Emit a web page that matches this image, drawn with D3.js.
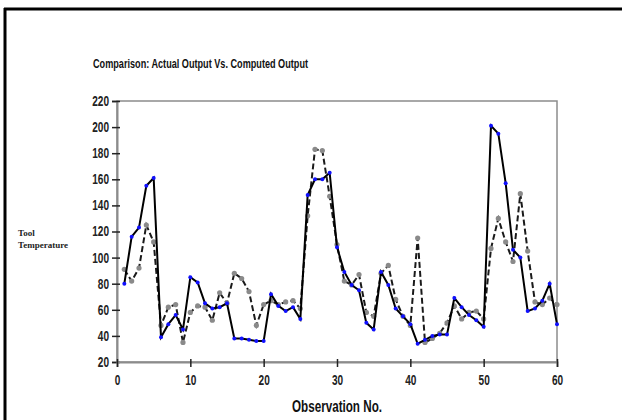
<!DOCTYPE html>
<html>
<head>
<meta charset="utf-8">
<script src="https://cdn.jsdelivr.net/npm/d3@7"></script>
<style>
  body { margin: 0; background: #fff; }
  text { font-family: "Liberation Sans Narrow", "Arial Narrow", "Liberation Sans", sans-serif; }
</style>
</head>
<body>
<div id="chart"></div>
<script>
// observation number 1..60
var obs = d3.range(1, 61);
// actual tool temperature (solid line, blue points)
var actual = [80, 116, 123, 155, 161, 39, 49, 56, 45, 85,
              81, 65, 61, 62, 65, 38, 38, 37, 36, 36,
              72, 63, 59, 62, 53, 148, 160, 160, 165, 108,
              89, 79, 75, 50, 45, 89, 79, 61, 55, 49,
              34, 37, 40, 41, 41, 69, 62, 56, 52, 47,
              201, 195, 157, 106, 100, 59, 61, 67, 80, 49];
// computed output (dashed line, grey points)
var computed = [91, 82, 92, 125, 112, 48, 62, 64, 35, 58,
                63, 62, 52, 73, 65, 88, 84, 74, 48, 64,
                67, 64, 66, 67, 61, 132, 183, 182, 147, 110,
                82, 79, 87, 58, 55, 88, 94, 68, 55, 48,
                115, 35, 38, 42, 50, 63, 53, 58, 59, 53,
                107, 130, 112, 97, 149, 105, 66, 64, 69, 64];
var yTicks = [20, 40, 60, 80, 100, 120, 140, 160, 180, 200, 220];
var xTicks = [0, 10, 20, 30, 40, 50, 60];

var W = 622, H = 420;
var svg = d3.select("#chart").append("svg")
    .attr("width", W)
    .attr("height", H);

// outer frame (top and left only)
svg.append("line").attr("x1", 4).attr("x2", W).attr("y1", 9).attr("y2", 9)
    .attr("stroke", "#000").attr("stroke-width", 3);
svg.append("line").attr("x1", 5).attr("x2", 5).attr("y1", 8).attr("y2", H)
    .attr("stroke", "#000").attr("stroke-width", 3);

var x = d3.scaleLinear().domain([0, 60]).range([117, 557]);
var y = d3.scaleLinear().domain([20, 220]).range([362, 101]);

// plot frame
svg.append("rect")
    .attr("x", x(0)).attr("y", y(220))
    .attr("width", x(60) - x(0)).attr("height", y(20) - y(220))
    .attr("fill", "none").attr("stroke", "#8c8c8c").attr("stroke-width", 1.5);

var yAxis = svg.append("g")
    .attr("transform", "translate(" + x(0) + ",0)")
    .call(d3.axisLeft(y).tickValues(yTicks).tickSize(5).tickPadding(3));
yAxis.select(".domain").attr("stroke", "#8c8c8c").attr("stroke-width", 2);
yAxis.selectAll(".tick line").attr("x2", -5).attr("x1", 3).attr("stroke", "#222").attr("stroke-width", 1.5);
yAxis.selectAll(".tick text").attr("fill", "#222")
    .style("font-size", "14px").style("font-weight", "bold")
    .attr("textLength", function(d) { return String(d).length * 5.6; })
    .attr("lengthAdjust", "spacingAndGlyphs");

var xAxis = svg.append("g")
    .attr("transform", "translate(0," + y(20) + ")")
    .call(d3.axisBottom(x).tickValues(xTicks).tickSize(5).tickPadding(8));
xAxis.select(".domain").attr("stroke", "#8c8c8c").attr("stroke-width", 2);
xAxis.selectAll(".tick line").attr("y1", -3).attr("stroke", "#222").attr("stroke-width", 1.5);
xAxis.selectAll(".tick text").attr("fill", "#222")
    .style("font-size", "14px").style("font-weight", "bold")
    .attr("textLength", function(d) { return String(d).length * 5.6; })
    .attr("lengthAdjust", "spacingAndGlyphs");

var line = d3.line()
    .x(function(d, i) { return x(obs[i]); })
    .y(function(d) { return y(d); });

// computed, dashed
svg.append("path")
    .datum(computed)
    .attr("d", line)
    .attr("fill", "none")
    .attr("stroke", "#1a1a1a")
    .attr("stroke-width", 2)
    .attr("stroke-dasharray", "6,3");
svg.append("g").selectAll("circle")
    .data(computed)
    .enter().append("circle")
    .attr("cx", function(d, i) { return x(obs[i]); })
    .attr("cy", function(d) { return y(d); })
    .attr("r", 2.6)
    .attr("fill", "#8a8a8a");

// actual, solid
svg.append("path")
    .datum(actual)
    .attr("d", line)
    .attr("fill", "none")
    .attr("stroke", "#000")
    .attr("stroke-width", 2);
svg.append("g").selectAll("circle")
    .data(actual)
    .enter().append("circle")
    .attr("cx", function(d, i) { return x(obs[i]); })
    .attr("cy", function(d) { return y(d); })
    .attr("r", 2)
    .attr("fill", "#1010ff");

// titles
svg.append("text")
    .attr("x", 93).attr("y", 68)
    .attr("textLength", 215).attr("lengthAdjust", "spacingAndGlyphs")
    .style("font-size", "13px").style("font-weight", "bold")
    .attr("fill", "#111")
    .text("Comparison: Actual Output  Vs. Computed Output");

svg.append("text")
    .attr("x", 292).attr("y", 412)
    .attr("textLength", 90).attr("lengthAdjust", "spacingAndGlyphs")
    .style("font-size", "16px").style("font-weight", "bold")
    .attr("fill", "#111")
    .text("Observation No.");

var yl = svg.append("text")
    .attr("fill", "#222")
    .style("font-family", "'Liberation Serif', 'DejaVu Serif', serif")
    .style("font-size", "9px").style("font-weight", "bold");
yl.append("tspan").attr("x", 18).attr("y", 236).text("Tool");
yl.append("tspan").attr("x", 18).attr("y", 248).text("Temperature");
</script>
</body>
</html>
